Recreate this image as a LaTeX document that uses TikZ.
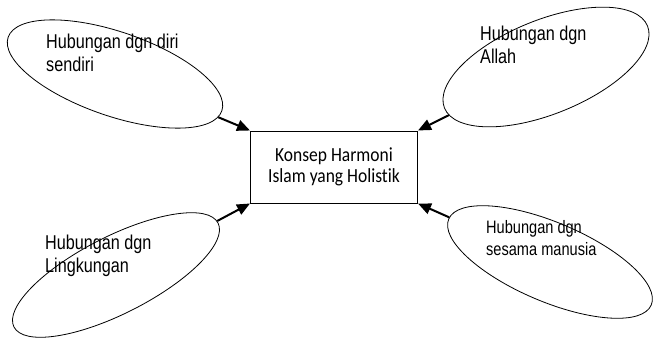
\documentclass[tikz,border=0pt]{standalone}
\usepackage{fontspec}
\usetikzlibrary{shapes.geometric,arrows.meta}
\newfontfamily\arialfont[FakeStretch=0.81]{Liberation Sans}
\newfontfamily\calfont[FakeStretch=0.875,Ligatures={NoCommon}]{Carlito}

\begin{document}
\begin{tikzpicture}[x=1pt, y=-1pt,
    oval/.style={draw, ellipse, line width=0.8pt, inner sep=0pt},
    ovaltext/.style={anchor=base west, align=left, inner sep=0pt,
      font=\arialfont\fontsize{20}{22.5}\selectfont},
    conn/.style={line width=2pt, -{Triangle[length=13pt,width=11pt]}}]

  \useasboundingbox (0,0) rectangle (654,340);

  \node[draw, line width=1pt, minimum width=167pt, minimum height=72pt,
    inner sep=0pt, align=center, font=\calfont\fontsize{20}{20.6}\selectfont]
    (box) at (334,167) {Konsep Harmoni\\Islam yang Holistik};

  \node[oval, minimum width=226pt, minimum height=84pt, rotate=-19] (e1) at (115,74) {};
  \node[oval, minimum width=219pt, minimum height=94pt, rotate=22]  (e2) at (546,67) {};
  \node[oval, minimum width=229pt, minimum height=77pt, rotate=27]  (e3) at (116,275) {};
  \node[oval, minimum width=220pt, minimum height=79pt, rotate=-23] (e4) at (550,262) {};

  \node[ovaltext] (t1) at (46,71)  {Hubungan dgn diri\\sendiri};
  \node[ovaltext] (t2) at (480,63) {Hubungan dgn\\Allah};
  \node[ovaltext] (t3) at (45,272) {Hubungan dgn\\Lingkungan};
  \node[ovaltext, font=\arialfont\fontsize{18}{22}\selectfont]
    (t4) at (486,255) {Hubungan dgn\\sesama manusia};

  \draw[conn] (e1) -- (box.north west); %% e1->box
  \draw[conn] (e2) -- (box.north east); %% e2->box
  \draw[conn] (e3) -- (box.south west); %% e3->box
  \draw[conn] (e4) -- (box.south east); %% e4->box
\end{tikzpicture}
\end{document}
